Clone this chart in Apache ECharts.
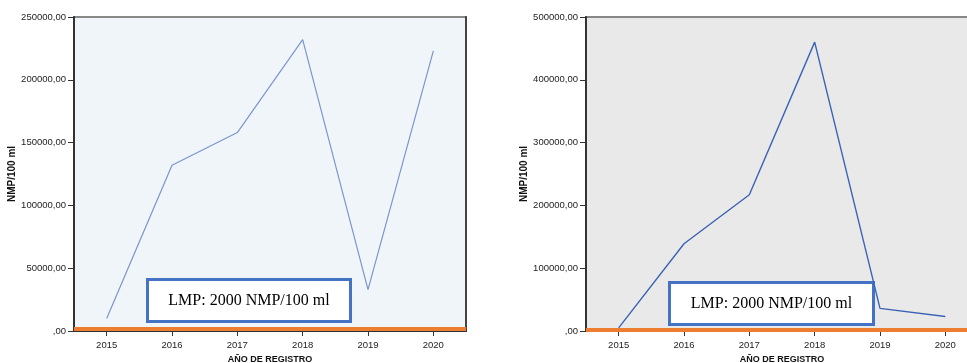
<!DOCTYPE html>
<html>
<head>
<meta charset="utf-8">
<script src="https://cdn.jsdelivr.net/npm/echarts@6/dist/echarts.min.js"></script>
<style>html,body{margin:0;padding:0;background:#fff}#c{width:967px;height:363px}</style>
</head>
<body>
<div id="c"></div>
<script>
var years = ['2015', '2016', '2017', '2018', '2019', '2020'];
var leftValues = [10000, 132000, 158000, 232000, 33000, 223000];
var rightValues = [5000, 139000, 217000, 460000, 36000, 23000];
var lmp = 2000;
var leftMax = 250000, leftInterval = 50000;
var rightMax = 500000, rightInterval = 100000;
var yTitle = 'NMP/100 ml';
var xTitle = 'AÑO DE REGISTRO';
var boxText = 'LMP: 2000 NMP/100 ml';

var chart = echarts.init(document.getElementById('c'), null, {renderer: 'canvas'});
function yFmt(v) { return v === 0 ? ',00' : v + ',00'; }
var tickFont = {fontFamily: 'Liberation Sans, Arial, sans-serif', fontSize: 9.5, color: '#222'};

function xAxis(gi) {
  return {
    type: 'category', gridIndex: gi, data: years, boundaryGap: true,
    axisLine: {show: true, lineStyle: {color: '#333', width: 2}},
    axisTick: {show: true, alignWithLabel: true, length: 5, lineStyle: {color: '#333'}},
    axisLabel: Object.assign({margin: 9}, tickFont),
    name: xTitle, nameLocation: 'middle', nameGap: 23,
    nameTextStyle: {fontFamily: 'Liberation Sans, Arial, sans-serif', fontSize: 9, fontWeight: 'bold', color: '#111'},
    splitLine: {show: false}
  };
}
function yAxis(gi, max, interval) {
  return {
    type: 'value', gridIndex: gi, min: 0, max: max, interval: interval,
    axisLine: {show: true, lineStyle: {color: '#333', width: 2}},
    axisTick: {show: true, length: 6, lineStyle: {color: '#333'}},
    axisLabel: Object.assign({formatter: yFmt, margin: 8}, tickFont),
    splitLine: {show: false},
    name: yTitle, nameLocation: 'middle', nameRotate: 90, nameGap: 54,
    nameTextStyle: {fontFamily: 'Liberation Sans, Arial, sans-serif', fontSize: 10, fontWeight: 'bold', color: '#111'}
  };
}
function series(xi, values, color, width) {
  return {
    type: 'line', xAxisIndex: xi, yAxisIndex: xi, data: values, symbol: 'none',
    lineStyle: {color: color, width: width}, z: 3,
    markLine: {
      silent: true, symbol: ['none', 'none'], label: {show: false},
      lineStyle: {color: '#ED7D31', width: 4, type: 'solid'},
      data: [{yAxis: lmp}], z: 4
    }
  };
}
function box(x, y, w, h) {
  return {
    type: 'group', left: x, top: y, z: 100,
    children: [
      {type: 'rect', shape: {x: 0, y: 0, width: w, height: h},
       style: {fill: '#fff', stroke: '#4472C4', lineWidth: 3}},
      {type: 'text', x: w / 2, y: h / 2,
       style: {text: boxText, fill: '#000', font: '16px "Liberation Serif", "Times New Roman", serif',
               align: 'center', verticalAlign: 'middle'}}
    ]
  };
}

var yl = yAxis(0, leftMax, leftInterval);
var yr = yAxis(1, rightMax, rightInterval);
var yBorder = {type: 'value', gridIndex: 0, position: 'right', min: 0, max: leftMax,
  axisLine: {show: true, lineStyle: {color: '#444', width: 2}}, axisTick: {show: false},
  axisLabel: {show: false}, splitLine: {show: false}};

chart.setOption({
  animation: false,
  grid: [
    {left: 74, top: 17, width: 392, height: 314, outerBoundsMode: 'none', containLabel: false,
     show: true, backgroundColor: '#F0F5FA', borderColor: '#888', borderWidth: 2},
    {left: 586, top: 17, width: 392, height: 314, outerBoundsMode: 'none', containLabel: false,
     show: true, backgroundColor: '#E9E9E9', borderColor: '#888', borderWidth: 2}
  ],
  xAxis: [xAxis(0), xAxis(1)],
  yAxis: [yl, yr, yBorder],
  series: [
    series(0, leftValues, '#7B95CD', 1.2),
    series(1, rightValues, '#3B63B5', 1.4)
  ],
  graphic: [box(146, 278, 203, 42), box(668, 281, 204, 42)]
});
</script>
</body>
</html>
